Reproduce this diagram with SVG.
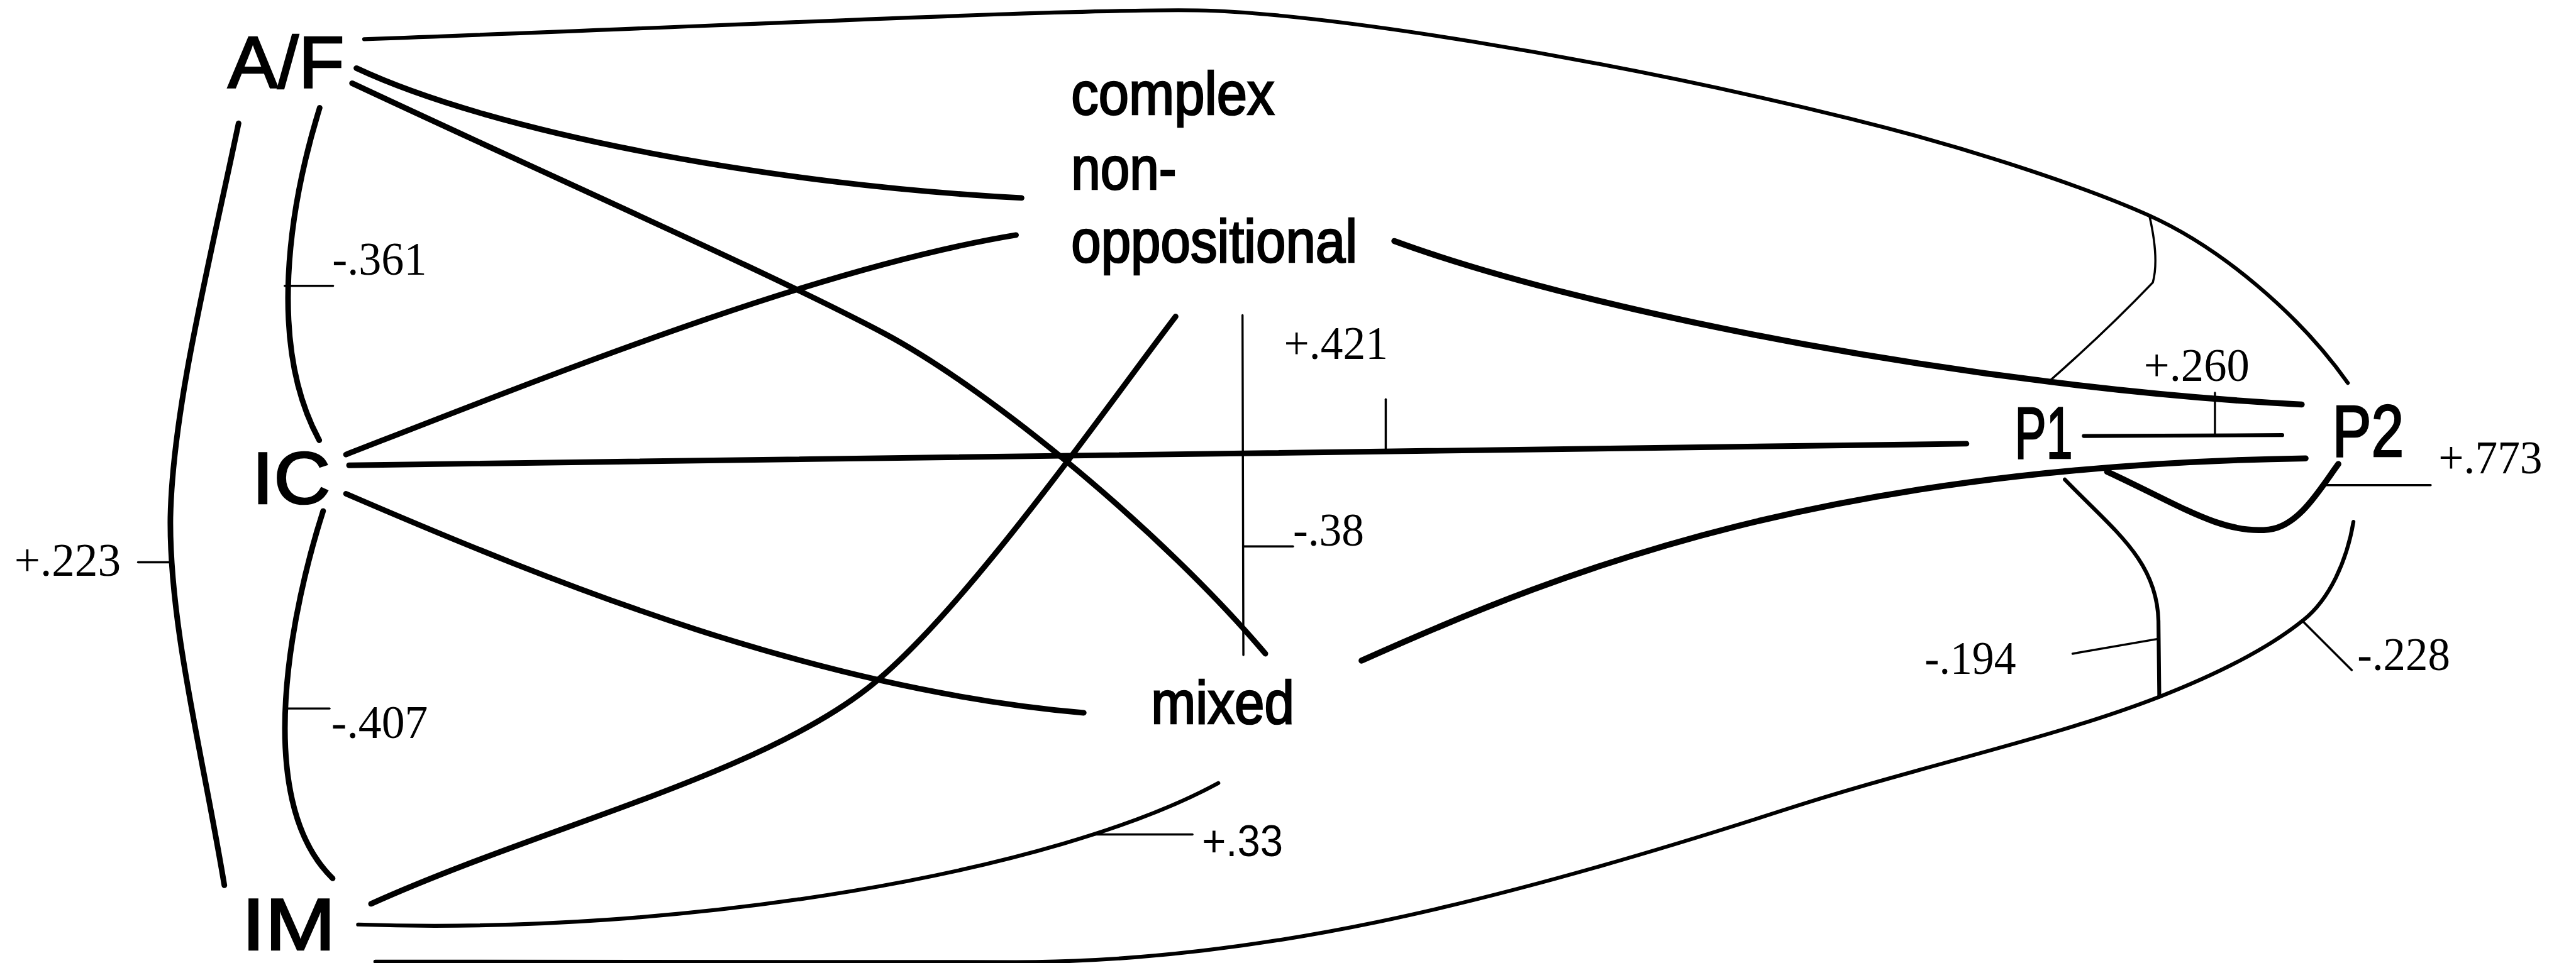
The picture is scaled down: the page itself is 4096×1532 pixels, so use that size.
<svg xmlns="http://www.w3.org/2000/svg" width="4096" height="1532" viewBox="0 0 4096 1532">
<style>
.ln{fill:none;stroke:#000;stroke-linecap:round;stroke-linejoin:round}
.m{stroke-width:13}
.h{stroke-width:14}
.b{stroke-width:9}
.t{stroke-width:5}
.node{font-family:"Liberation Sans","DejaVu Sans",sans-serif;fill:#000;stroke:#000;stroke-width:4}
.big{font-size:170px}
.word{font-size:140px}
.lab{font-family:"Liberation Serif","DejaVu Serif",serif;font-size:108px;fill:#000}
.labs{font-family:"Liberation Sans","DejaVu Sans",sans-serif;font-size:102px;fill:#000}
</style>
<rect width="4096" height="1532" fill="#fff"/>
<g transform="scale(0.686)">
<g id="connectors">
<path id="e-af-p2" class="ln b" d="M844,91 C1800,55 2500,20 2776,24 C3050,28 3700,130 4288,275 C4600,352 4860,445 4982,500 C5150,576 5330,730 5442,888"/>
<path id="e-af-p1" class="ln t" d="M4982,500 Q5005,600 4990,655 Q4880,770 4750,884"/>
<path id="e-af-complex" class="ln m" d="M826,158 C1150,310 1800,430 2368,459"/>
<path id="e-af-mixed" class="ln m" d="M816,193 C1300,420 1800,640 2049,773 C2300,907 2700,1240 2933,1516"/>
<path id="e-af-ic" class="ln m" d="M741,250 C670,480 620,800 740,1021"/>
<path id="e-af-im" class="ln m" d="M553,286 C483,620 400,950 395,1200 C392,1450 470,1750 520,2053"/>
<path id="e-ic-im" class="ln m" d="M749,1185 C680,1400 580,1850 771,2037"/>
<path id="e-ic-complex" class="ln m" d="M802,1054 C1300,860 1900,620 2355,545"/>
<path id="e-ic-p1" class="ln m" d="M809,1079 L4558,1029"/>
<path id="e-ic-mixed" class="ln m" d="M802,1145 C1300,1360 1900,1600 2512,1653"/>
<path id="e-im-complex" class="ln m" d="M860,2096 C1250,1920 1750,1800 2010,1597 C2230,1425 2560,950 2725,734"/>
<path id="e-im-mixed" class="ln b" d="M830,2144 C1600,2170 2450,2020 2824,1816"/>
<path id="e-im-p2" class="ln b" d="M870,2230 L2350,2231 C2900,2232 3450,2100 4130,1880 C4450,1776 4750,1715 5005,1616 C5130,1567 5250,1510 5339,1438 C5400,1389 5440,1300 5455,1210"/>
<path id="e-complex-p2" class="ln h" d="M3232,559 C3700,730 4600,900 5335,938"/>
<path id="e-mixed-p2" class="ln h" d="M3156,1532 C3650,1310 4250,1080 5344,1063"/>
<path id="e-p1-p2-a" class="ln b" d="M4830,1011 L5290,1009"/>
<path id="e-p1-p2-b" class="ln h" d="M4884,1094 C5050,1170 5150,1240 5259,1228 C5330,1220 5380,1130 5420,1076"/>
<path id="e-p1-bottom" class="ln b" d="M4786,1112 C4900,1230 5000,1300 5003,1440 L5005,1616"/>
<path id="e-complex-mixed" class="ln t" d="M2880,731 L2882,1519"/>
<g id="ticks">
<path class="ln t" d="M660,663 L772,663"/>
<path class="ln t" d="M320,1304 L392,1304"/>
<path class="ln t" d="M659,1643 L764,1643"/>
<path class="ln t" d="M3212,926 L3212,1040"/>
<path class="ln t" d="M2882,1267 L2997,1267"/>
<path class="ln t" d="M2528,1935 L2764,1935"/>
<path class="ln t" d="M5134,911 L5134,1010"/>
<path class="ln t" d="M5380,1125 L5634,1125"/>
<path class="ln t" d="M4804,1516 L5000,1482"/>
<path class="ln t" d="M5339,1442 L5451,1554"/>
</g>
<g id="edge-labels">
<text class="lab" x="770" y="637" textLength="219" lengthAdjust="spacingAndGlyphs">-.361</text>
<text class="lab" x="33" y="1335" textLength="247" lengthAdjust="spacingAndGlyphs">+.223</text>
<text class="lab" x="768" y="1711" textLength="224" lengthAdjust="spacingAndGlyphs">-.407</text>
<text class="lab" x="2976" y="832" textLength="241" lengthAdjust="spacingAndGlyphs">+.421</text>
<text class="lab" x="2997" y="1265" textLength="165" lengthAdjust="spacingAndGlyphs">-.38</text>
<text class="labs" x="2786" y="1985" textLength="188" lengthAdjust="spacingAndGlyphs">+.33</text>
<text class="lab" x="4969" y="884" textLength="245" lengthAdjust="spacingAndGlyphs">+.260</text>
<text class="lab" x="5652" y="1098" textLength="241" lengthAdjust="spacingAndGlyphs">+.773</text>
<text class="lab" x="4461" y="1562" textLength="212" lengthAdjust="spacingAndGlyphs">-.194</text>
<text class="lab" x="5464" y="1554" textLength="215" lengthAdjust="spacingAndGlyphs">-.228</text>
</g>
</g>
<g id="node-AF"><text class="node big" x="528" y="204" textLength="270" lengthAdjust="spacingAndGlyphs">A/F</text></g>
<g id="node-IC"><text class="node big" x="584" y="1167" textLength="182" lengthAdjust="spacingAndGlyphs">IC</text></g>
<g id="node-IM"><text class="node big" x="560" y="2203" textLength="218" lengthAdjust="spacingAndGlyphs">IM</text></g>
<g id="node-complex">
<text class="node word" x="2483" y="266" textLength="471" lengthAdjust="spacingAndGlyphs">complex</text>
<text class="node word" x="2483" y="439" textLength="244" lengthAdjust="spacingAndGlyphs">non-</text>
<text class="node word" x="2483" y="608" textLength="663" lengthAdjust="spacingAndGlyphs">oppositional</text>
</g>
<g id="node-mixed"><text class="node word" x="2668" y="1678" textLength="332" lengthAdjust="spacingAndGlyphs">mixed</text></g>
<g id="node-P1"><text class="node big" x="4670" y="1063" textLength="134" lengthAdjust="spacingAndGlyphs">P1</text></g>
<g id="node-P2"><text class="node big" x="5406" y="1058" textLength="166" lengthAdjust="spacingAndGlyphs">P2</text></g>
</g>
</svg>
